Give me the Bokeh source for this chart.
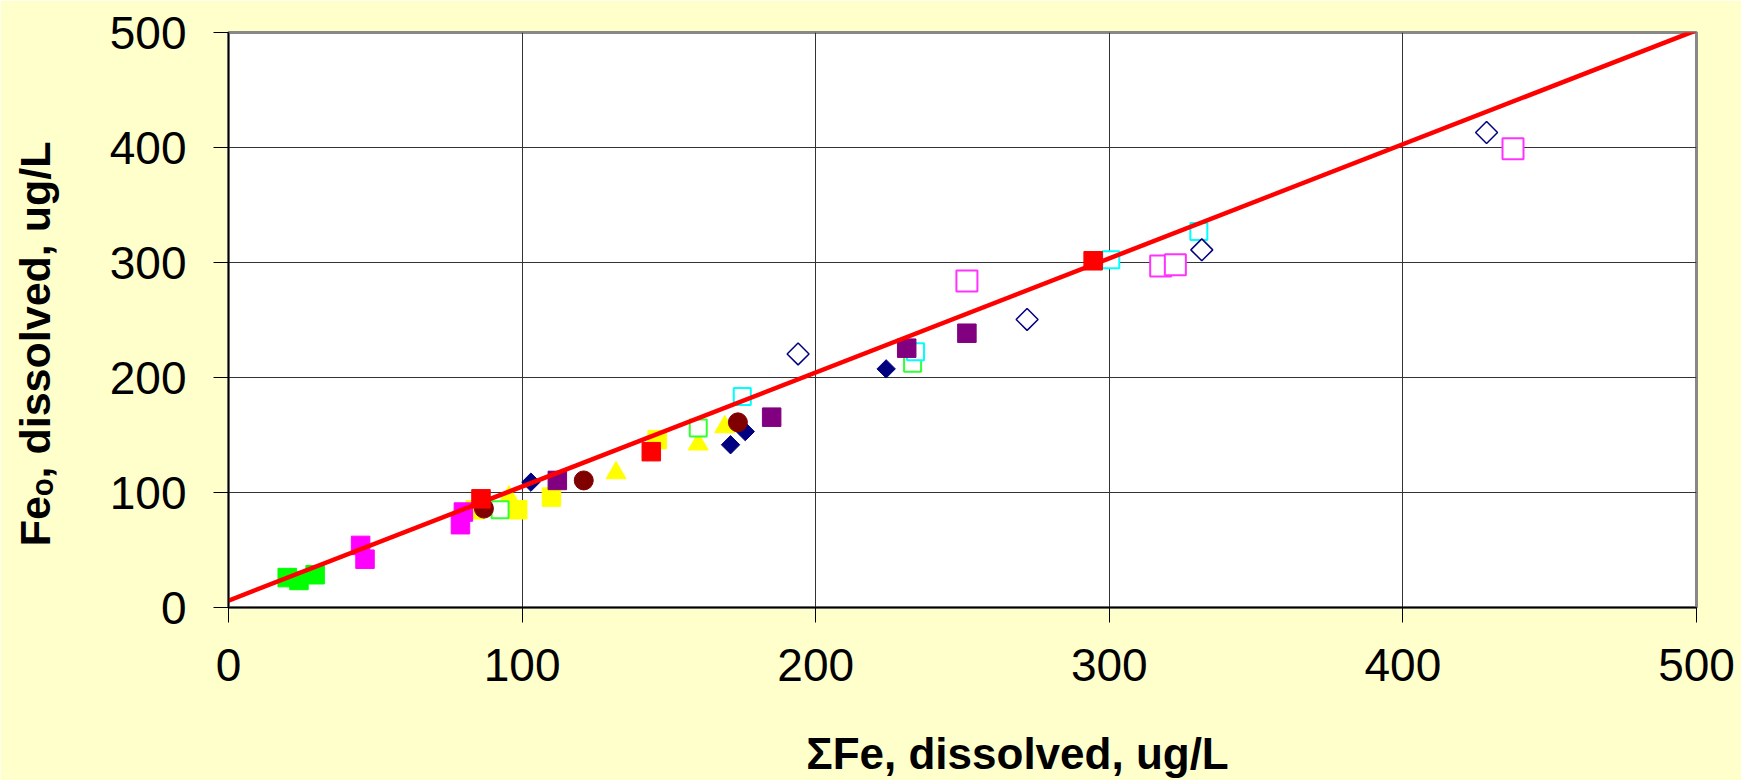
import numpy as np
from bokeh.plotting import figure
from bokeh.models import Range1d, FixedTicker
from bokeh.embed import file_html
from bokeh.resources import INLINE

# ---- data ----
NAVY_FILLED_X = [103, 171, 176, 224]
NAVY_FILLED_Y = [109, 141.5, 153, 207.5]
NAVY_OPEN_X = [194, 272, 331.5, 428.5]
NAVY_OPEN_Y = [220.5, 250.5, 311, 413]
MAGENTA_FILLED_X = [45, 46.5, 80, 79]
MAGENTA_FILLED_Y = [54, 42, 83, 72]
MAGENTA_OPEN_X = [251.5, 317.5, 322.5, 437.5]
MAGENTA_OPEN_Y = [284, 297, 298, 399]
YELLOW_SQ_X = [84, 98.5, 110, 146]
YELLOW_SQ_Y = [85, 85, 96, 146]
YELLOW_TRI_X = [95.5, 132, 160, 169]
YELLOW_TRI_Y = [96, 117, 142, 157]
CYAN_OPEN_X = [175, 234, 300.5, 330.5]
CYAN_OPEN_Y = [183.5, 222.5, 302.5, 327]
GREEN_OPEN_X = [92.5, 160, 233]
GREEN_OPEN_Y = [85, 156, 212.5]
GREEN_FILLED_X = [20, 24, 29.5]
GREEN_FILLED_Y = [26, 23.5, 28.5]
RED_SQ_X = [86, 144, 294.5]
RED_SQ_Y = [94.5, 135.5, 301.5]
DARKRED_X = [87, 121, 173.5]
DARKRED_Y = [86, 110.5, 161]
PURPLE_SQ_X = [112, 185, 231, 251.5]
PURPLE_SQ_Y = [110.5, 165.5, 225.5, 238.5]
FIT_X = [-2, 500]
FIT_Y = [4, 502]
TICKS = [0, 100, 200, 300, 400, 500]

X_TITLE = "\u03a3Fe, dissolved, ug/L"
Y_TITLE = "Fe\u2092, dissolved, ug/L"

# ---- figure ----
p = figure(frame_width=1468, frame_height=575,
           x_range=Range1d(0, 500), y_range=Range1d(0, 500),
           output_backend="svg", toolbar_location=None,
           min_border_left=228, min_border_right=45,
           min_border_top=32, min_border_bottom=173)
p.border_fill_color = "#FFFFCC"
p.background_fill_color = "white"
p.outline_line_color = "#888888"
p.outline_line_width = 3

for ax in (p.xaxis[0], p.yaxis[0]):
    ax.ticker = FixedTicker(ticks=TICKS)
    ax.major_tick_out = 15
    ax.major_tick_in = 0
    ax.minor_tick_out = 0
    ax.minor_tick_in = 0
    ax.major_tick_line_color = "black"
    ax.axis_line_color = "black"
    ax.axis_line_width = 1.5
    ax.major_label_text_font = "Liberation Sans"
    ax.major_label_text_font_size = "46px"
    ax.major_label_text_color = "black"
    ax.axis_label_text_font = "Liberation Sans"
    ax.axis_label_text_font_style = "bold"
    ax.axis_label_text_color = "black"
p.xaxis[0].major_label_standoff = 26
p.yaxis[0].major_label_standoff = 27

# y title (trailing no-break spaces nudge it downward, as in the reference)
yax = p.yaxis[0]
yax.axis_label = Y_TITLE + "\u00a0" * 4
yax.axis_label_text_font_size = "43px"
yax.axis_label_standoff = 48

# x title (leading no-break spaces nudge it to the right, as in the reference)
xax = p.xaxis[0]
xax.axis_label = "\u00a0" * 9 + X_TITLE
xax.axis_label_text_font_size = "44px"
xax.axis_label_standoff = 45

p.grid.grid_line_color = "#333333"
p.grid.grid_line_width = 1

TILT = np.pi / 4

p.scatter(YELLOW_SQ_X, YELLOW_SQ_Y, marker="square", size=18.5,
          fill_color="#FFFF00", line_color="#FFFF00")
p.scatter(YELLOW_TRI_X, YELLOW_TRI_Y, marker="triangle", size=20,
          fill_color="#FFFF00", line_color="#FFFF00")
p.scatter(GREEN_FILLED_X, GREEN_FILLED_Y, marker="square", size=18.5,
          fill_color="#00FF00", line_color="#00FF00")
p.scatter(MAGENTA_FILLED_X, MAGENTA_FILLED_Y, marker="square", size=18.5,
          fill_color="#FF00FF", line_color="#FF00FF")
p.scatter(MAGENTA_OPEN_X, MAGENTA_OPEN_Y, marker="square", size=21,
          fill_color="white", line_color="#FF33FF", line_width=2)
p.scatter(GREEN_OPEN_X, GREEN_OPEN_Y, marker="square", size=17,
          fill_color="white", line_color="#33FF33", line_width=2)
p.scatter(CYAN_OPEN_X, CYAN_OPEN_Y, marker="square", size=17,
          fill_color="white", line_color="#00FFFF", line_width=2)
p.scatter(NAVY_OPEN_X, NAVY_OPEN_Y, marker="square", angle=TILT, size=15.5,
          fill_color="white", line_color="#000080", line_width=1.5)
p.scatter(NAVY_FILLED_X, NAVY_FILLED_Y, marker="square", angle=TILT, size=13,
          fill_color="#000080", line_color="#000080")
p.scatter(PURPLE_SQ_X, PURPLE_SQ_Y, marker="square", size=18.5,
          fill_color="#800080", line_color="#800080")
p.scatter(DARKRED_X, DARKRED_Y, marker="circle", size=19,
          fill_color="#800000", line_color="#800000")
p.scatter(RED_SQ_X, RED_SQ_Y, marker="square", size=18.5,
          fill_color="#FF0000", line_color="#FF0000")

p.line(FIT_X, FIT_Y, line_color="#FF0000", line_width=4.5)

open("out.html", "w").write(file_html(p, INLINE))
